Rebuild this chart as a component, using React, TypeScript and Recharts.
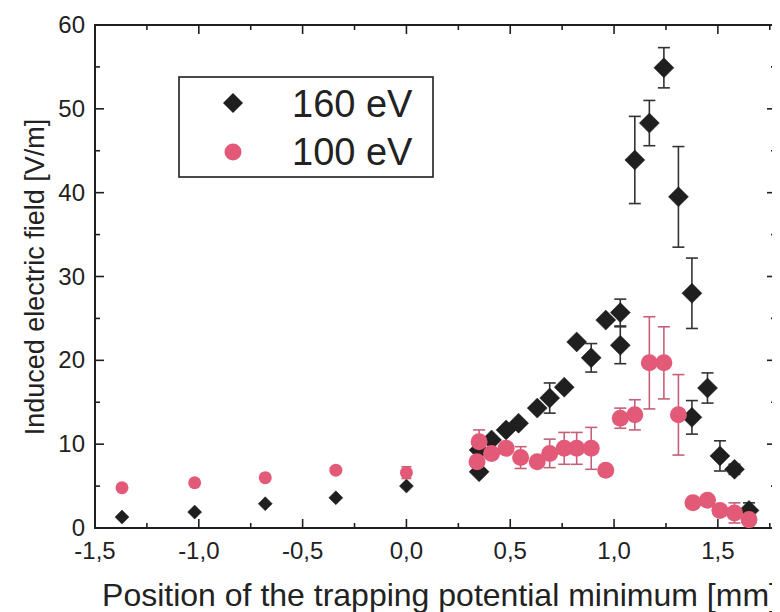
import React from "react";
import {
  ScatterChart,
  Scatter,
  XAxis,
  YAxis,
  ErrorBar,
  ReferenceArea,
} from "recharts";

// ---------- data ----------
const xCoarse = [-1.37, -1.02, -0.68, -0.34, 0.0];
const y160Coarse = [1.3, 1.9, 2.9, 3.6, 5.0];
const y100Coarse = [4.8, 5.4, 6.0, 6.9, 6.6];
const e100Coarse = [null, null, null, null, 0.7];

const x160Fine = [0.35, 0.35, 0.41, 0.48, 0.54, 0.63, 0.69, 0.76, 0.82, 0.89, 0.96, 1.03, 1.03, 1.1, 1.17, 1.24, 1.31, 1.375, 1.375, 1.45, 1.51, 1.58, 1.65];
const y160Fine = [6.7, 9.3, 10.5, 11.7, 12.5, 14.3, 15.5, 16.8, 22.2, 20.3, 24.8, 25.7, 21.8, 43.9, 48.3, 54.9, 39.5, 28.0, 13.2, 16.7, 8.6, 7.0, 2.1];
const e160Fine = [null, null, null, null, null, null, 1.8, null, null, 1.7, null, 1.6, 2.2, 5.2, 2.7, 2.4, 6.0, 4.2, 2.0, 1.8, 1.8, 0.6, 0.9];

const x100Fine = [0.35, 0.34, 0.41, 0.48, 0.55, 0.63, 0.69, 0.76, 0.82, 0.89, 0.96, 1.03, 1.1, 1.17, 1.24, 1.31, 1.38, 1.45, 1.51, 1.58, 1.65];
const y100Fine = [10.3, 7.9, 8.9, 9.5, 8.4, 7.9, 8.9, 9.5, 9.5, 9.5, 6.9, 13.1, 13.5, 19.7, 19.7, 13.5, 3.0, 3.3, 2.1, 1.8, 1.0];
const e100Fine = [1.4, null, null, null, 1.3, null, 1.7, 1.9, 1.9, 2.5, null, 1.2, 1.8, 5.5, 4.3, 4.8, 0.6, null, null, 1.2, null];

const xTicks = [-1.5, -1.25, -1.0, -0.75, -0.5, -0.25, 0, 0.25, 0.5, 0.75, 1.0, 1.25, 1.5, 1.75];
const xMajor = [-1.5, -1.0, -0.5, 0, 0.5, 1.0, 1.5];
const yTicks = [0, 5, 10, 15, 20, 25, 30, 35, 40, 45, 50, 55, 60];
const yMajor = [0, 10, 20, 30, 40, 50, 60];

const legendLabels = ["160 eV", "100 eV"];
const xLabel = "Position of the trapping potential minimum [mm]";
const yLabel = "Induced electric field [V/m]";

const build = (xs: number[], ys: number[], es: (number | null)[]) =>
  xs.map((x, i) => ({ x, y: ys[i], err: es[i] == null ? undefined : es[i] }));

const d160Coarse = build(xCoarse, y160Coarse, xCoarse.map(() => null));
const d100Coarse = build(xCoarse, y100Coarse, e100Coarse);
const d160Fine = build(x160Fine, y160Fine, e160Fine);
const d100Fine = build(x100Fine, y100Fine, e100Fine);

// ---------- layout ----------
const W = 772;
const H = 604;
const TOP = 17;
const LEFT = 87;
const RIGHT = 768;
const BOTTOM = 520;
const FONT = "'Liberation Sans', Arial, Helvetica, sans-serif";
const BLACK = "#1f1f1f";
const PINK = "#e25a78";
const PINK_ERR = "#c46178";
const TEXT = "#222";

const fmt = (v: number) => v.toFixed(1).replace(".", ",");

const XTick = (props: any) => {
  const { x, payload } = props;
  const v = payload.value;
  const major = xMajor.some((m) => Math.abs(m - v) < 1e-6);
  const len = major ? 9 : 5;
  return (
    <g>
      <line x1={x} x2={x} y1={BOTTOM} y2={BOTTOM - len} stroke={BLACK} strokeWidth={1.6} />
      <line x1={x} x2={x} y1={TOP} y2={TOP + len} stroke={BLACK} strokeWidth={1.6} />
      {major && (
        <text x={x} y={BOTTOM + 31} textAnchor="middle" fontFamily={FONT} fontSize={24} fill={TEXT}>
          {fmt(v)}
        </text>
      )}
    </g>
  );
};

const YTick = (props: any) => {
  const { y, payload } = props;
  const v = payload.value;
  const major = yMajor.includes(v);
  const len = major ? 9 : 5;
  return (
    <g>
      <line x1={LEFT} x2={LEFT + len} y1={y} y2={y} stroke={BLACK} strokeWidth={1.6} />
      <line x1={RIGHT} x2={RIGHT - len} y1={y} y2={y} stroke={BLACK} strokeWidth={1.6} />
      {major && (
        <text x={LEFT - 10} y={y + 8} textAnchor="end" fontFamily={FONT} fontSize={24} fill={TEXT}>
          {v}
        </text>
      )}
    </g>
  );
};

const diamond = (r: number, color: string) => (p: any) => {
  const { cx, cy } = p;
  if (cx == null || cy == null) return <g />;
  return (
    <path
      d={`M${cx},${cy - r} L${cx + r},${cy} L${cx},${cy + r} L${cx - r},${cy} Z`}
      fill={color}
      stroke={color}
      strokeWidth={0.5}
    />
  );
};

const circle = (r: number, color: string) => (p: any) => {
  const { cx, cy } = p;
  if (cx == null || cy == null) return <g />;
  return <circle cx={cx} cy={cy} r={r} fill={color} />;
};

const LegendBox = () => (
  <svg width={256} height={102} style={{ display: "block" }}>
    <rect x={1} y={1} width={254} height={100} fill="#fff" stroke={BLACK} strokeWidth={1.6} />
    <path d="M55,17 L65,27 L55,37 L45,27 Z" fill={BLACK} />
    <circle cx={55} cy={76} r={8.5} fill={PINK} />
    <text x={114} y={41} fontFamily={FONT} fontSize={38} fill={TEXT}>
      {legendLabels[0]}
    </text>
    <text x={114} y={89} fontFamily={FONT} fontSize={38} fill={TEXT}>
      {legendLabels[1]}
    </text>
  </svg>
);

export default function App() {
  return (
    <div style={{ position: "relative", width: W, height: H, background: "#fff" }}>
      <ScatterChart
        width={W}
        height={H}
        margin={{ top: TOP, right: W - RIGHT, bottom: 0, left: 0 }}
      >
        <XAxis
          type="number"
          dataKey="x"
          domain={[-1.5, 1.78]}
          ticks={xTicks}
          interval={0}
          allowDataOverflow
          height={H - BOTTOM}
          axisLine={{ stroke: BLACK, strokeWidth: 2 }}
          tickLine={false}
          tick={<XTick />}
          label={(props: any) => (
            <text x={432} y={598} textAnchor="middle" fontFamily={FONT} fontSize={32} fill={TEXT}>
              {xLabel}
            </text>
          )}
        />
        <YAxis
          type="number"
          dataKey="y"
          domain={[0, 60]}
          ticks={yTicks}
          interval={0}
          allowDataOverflow
          width={LEFT}
          axisLine={{ stroke: BLACK, strokeWidth: 2 }}
          tickLine={false}
          tick={<YTick />}
          label={(props: any) => (
            <text
              x={36}
              y={269}
              textAnchor="middle"
              transform="rotate(-90, 36, 269)"
              fontFamily={FONT}
              fontSize={27}
              fill={TEXT}
            >
              {yLabel}
            </text>
          )}
        />
        <ReferenceArea
          x1={-1.5}
          x2={1.78}
          y1={0}
          y2={60}
          fill="none"
          fillOpacity={0}
          stroke={BLACK}
          strokeWidth={2}
          ifOverflow="extendDomain"
        />
        <Scatter name="160 eV coarse" data={d160Coarse} shape={diamond(7, BLACK)} isAnimationActive={false} legendType="none" />
        <Scatter name="160 eV" data={d160Fine} shape={diamond(10, BLACK)} isAnimationActive={false}>
          <ErrorBar dataKey="err" direction="y" width={6} stroke="#333" strokeWidth={1.6} />
        </Scatter>
        <Scatter name="100 eV coarse" data={d100Coarse} shape={circle(6.5, PINK)} isAnimationActive={false} legendType="none">
          <ErrorBar dataKey="err" direction="y" width={5} stroke={PINK_ERR} strokeWidth={1.6} />
        </Scatter>
        <Scatter name="100 eV" data={d100Fine} shape={circle(8.5, PINK)} isAnimationActive={false}>
          <ErrorBar dataKey="err" direction="y" width={6} stroke={PINK_ERR} strokeWidth={1.6} />
        </Scatter>
      </ScatterChart>
      <div style={{ position: "absolute", left: 170, top: 68 }}>
        <LegendBox />
      </div>
    </div>
  );
}
